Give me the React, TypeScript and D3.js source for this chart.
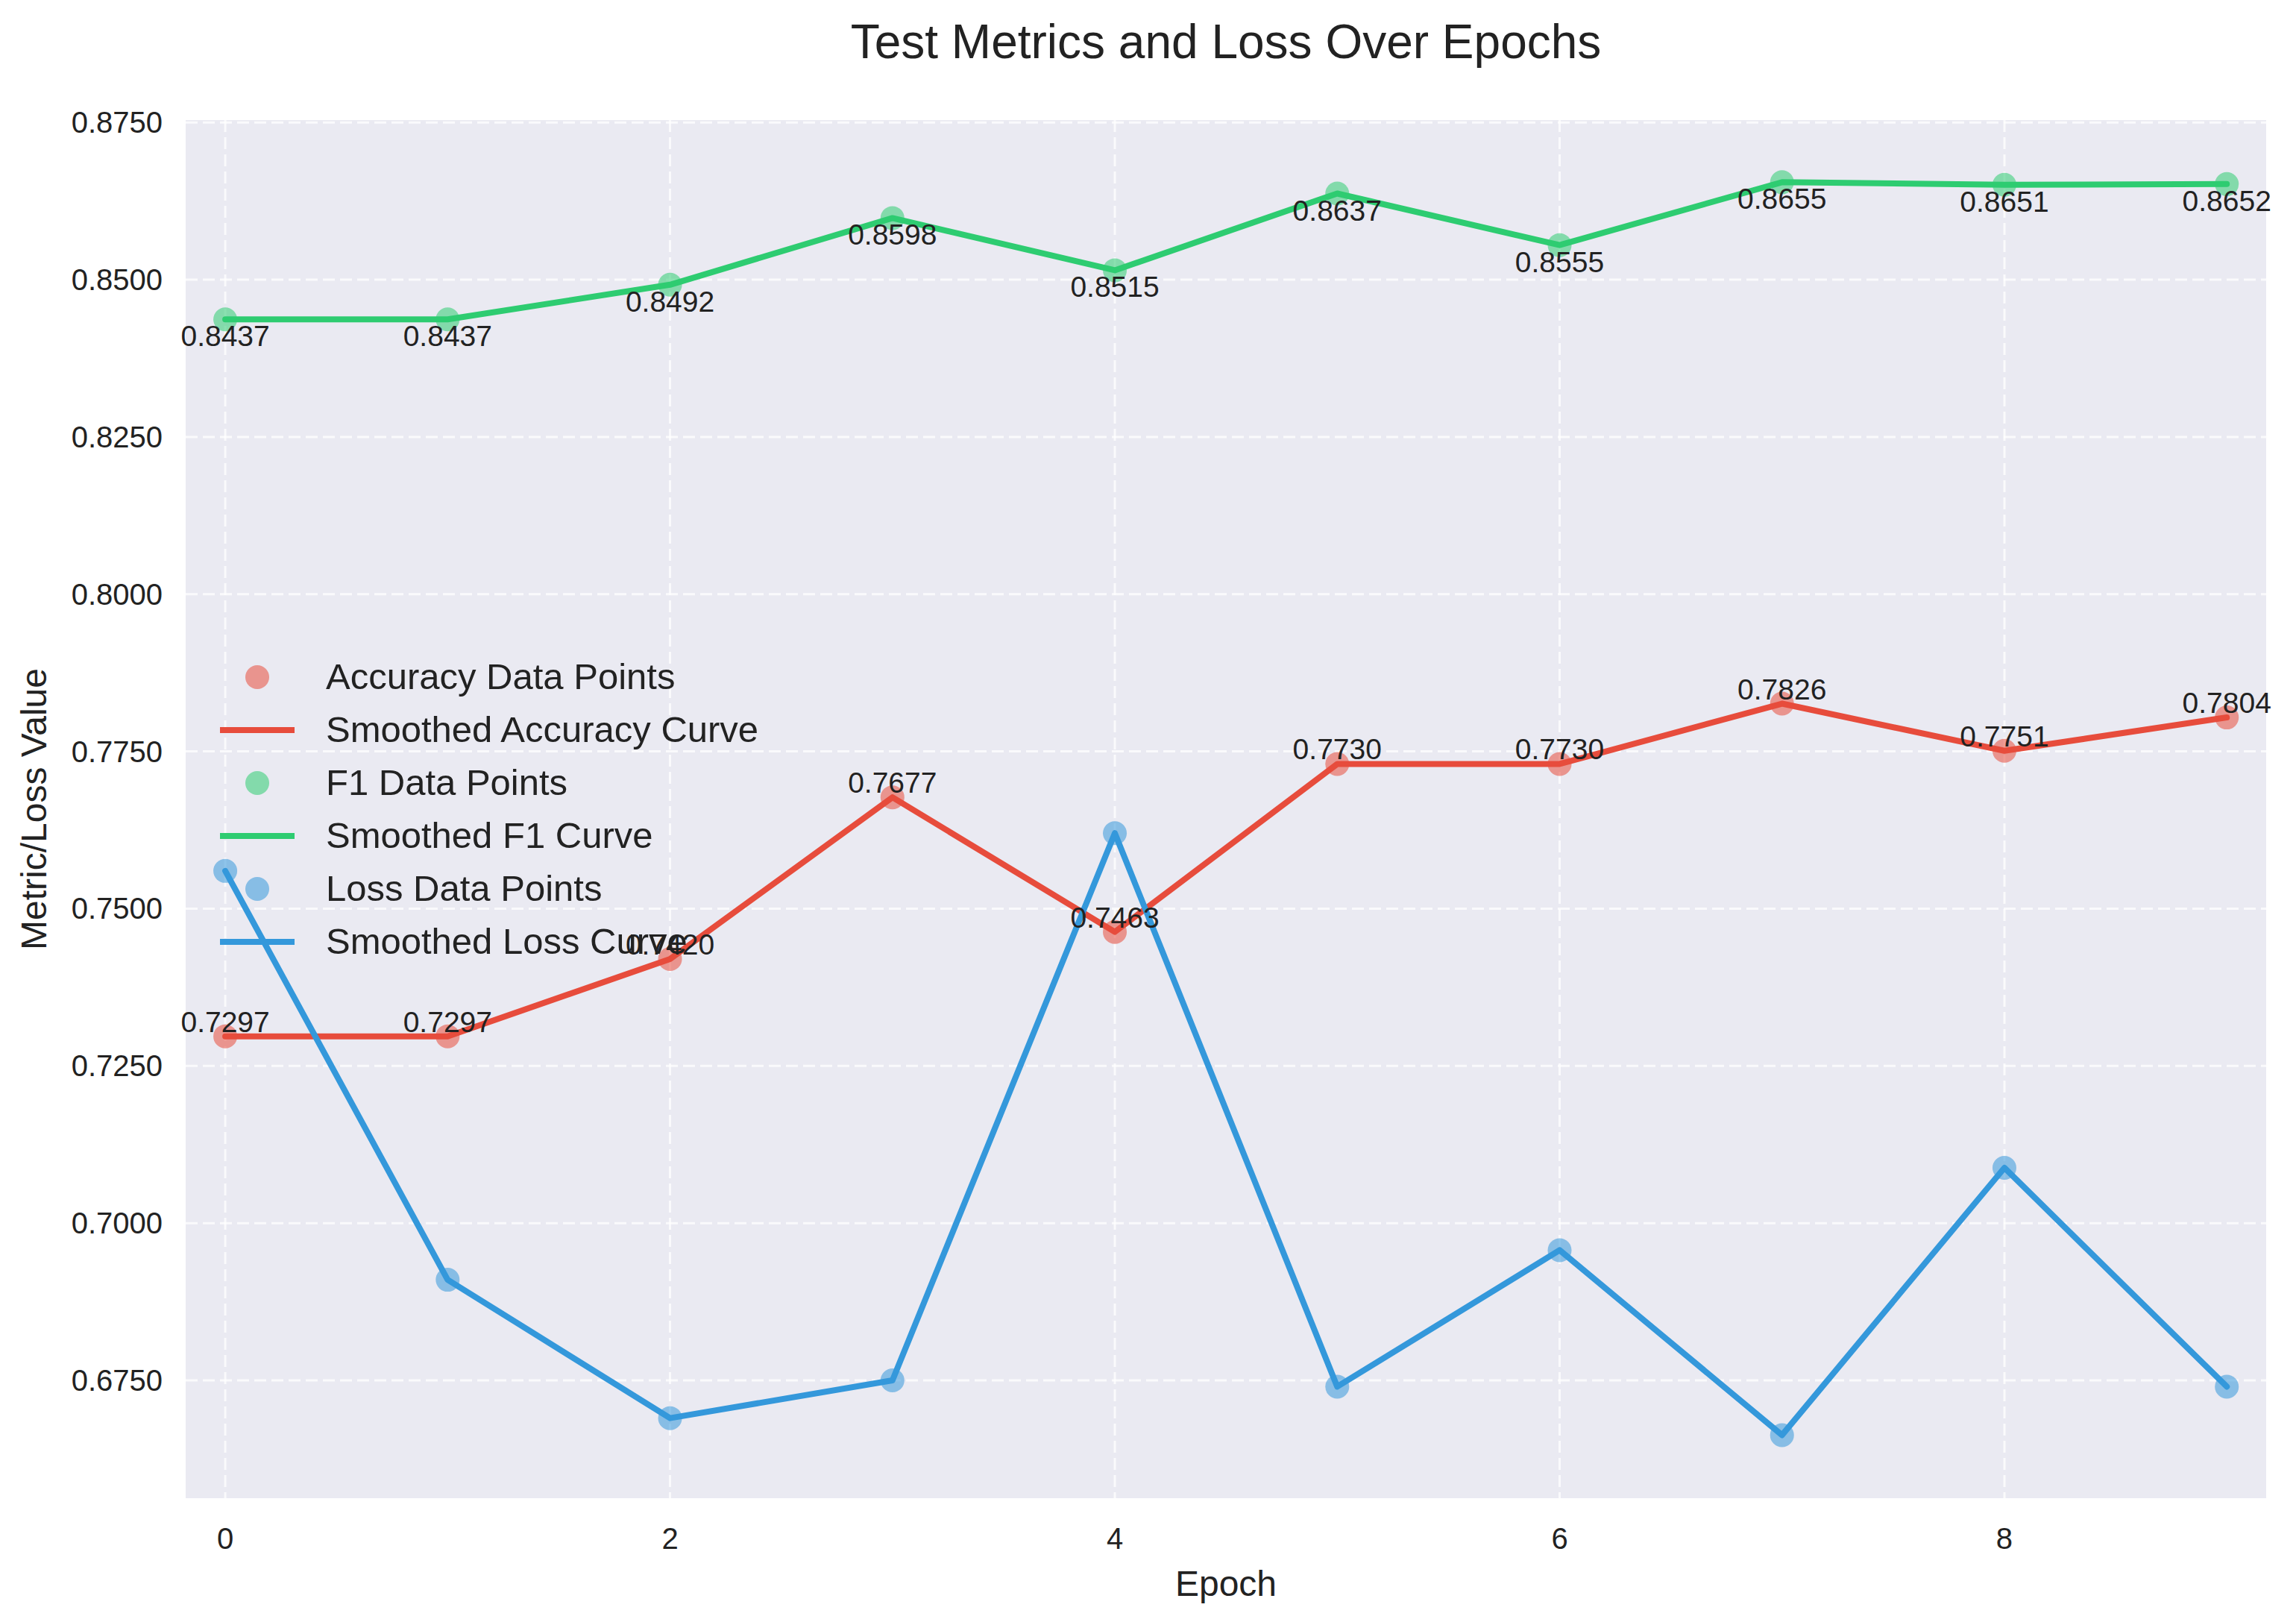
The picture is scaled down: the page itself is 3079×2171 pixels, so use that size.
import * as React from "react";
import * as d3 from "d3";

const epochs = [0, 1, 2, 3, 4, 5, 6, 7, 8, 9];
const accuracy = [0.7297, 0.7297, 0.742, 0.7677, 0.7463, 0.773, 0.773, 0.7826, 0.7751, 0.7804];
const f1 = [0.8437, 0.8437, 0.8492, 0.8598, 0.8515, 0.8637, 0.8555, 0.8655, 0.8651, 0.8652];
const loss = [0.756, 0.691, 0.669, 0.675, 0.762, 0.674, 0.6957, 0.6663, 0.7088, 0.674];
const xTicks = [0, 2, 4, 6, 8];
const yTicks = [0.675, 0.7, 0.725, 0.75, 0.775, 0.8, 0.825, 0.85, 0.875];

const W = 3079;
const H = 2171;
const m = { left: 249, right: 3039, top: 161, bottom: 2009 };
const font = "'Liberation Sans', Arial, sans-serif";

export default function App() {
  const x = d3.scaleLinear().domain([-0.178, 9.177]).range([m.left, m.right]);
  const y = d3.scaleLinear().domain([0.65627, 0.87538]).range([m.bottom, m.top]);
  const line = d3
    .line<number>()
    .x((_, i) => x(epochs[i]))
    .y((d) => y(d));

  const series = [
    { name: "Accuracy", vals: accuracy, color: "#e74c3c", label: "above" },
    { name: "F1", vals: f1, color: "#2ecc71", label: "below" },
    { name: "Loss", vals: loss, color: "#3498db", label: "none" },
  ];

  const legendRows = series.flatMap((s) => [
    { kind: "dot", text: `${s.name} Data Points`, color: s.color },
    { kind: "line", text: `Smoothed ${s.name} Curve`, color: s.color },
  ]);

  return (
    <svg width={W} height={H} style={{ position: "absolute", left: 0, top: 0 }} fontFamily={font}>
      <rect width={W} height={H} fill="white" />
      <rect x={m.left} y={m.top} width={m.right - m.left} height={m.bottom - m.top} fill="#eaeaf2" />
      {xTicks.map((t) => (
        <line key={"gx" + t} x1={x(t)} x2={x(t)} y1={m.top} y2={m.bottom} stroke="white" strokeWidth={3} strokeDasharray="16,7" opacity={0.8} />
      ))}
      {yTicks.map((t) => (
        <line key={"gy" + t} x1={m.left} x2={m.right} y1={y(t)} y2={y(t)} stroke="white" strokeWidth={3} strokeDasharray="16,7" opacity={0.8} />
      ))}
      {series.map((s) => (
        <g key={s.name}>
          {s.vals.map((v, i) => (
            <circle key={i} cx={x(epochs[i])} cy={y(v)} r={16} fill={s.color} opacity={0.55} />
          ))}
          <path d={line(s.vals) ?? ""} fill="none" stroke={s.color} strokeWidth={8} strokeLinejoin="round" strokeLinecap="round" />
        </g>
      ))}
      {series
        .filter((s) => s.label !== "none")
        .map((s) =>
          s.vals.map((v, i) => (
            <text
              key={s.name + i}
              x={x(epochs[i])}
              y={s.label === "above" ? y(v) - 6 : y(v) + 36}
              textAnchor="middle"
              fontSize={39}
              fill="#222"
            >
              {v.toFixed(4)}
            </text>
          ))
        )}
      {xTicks.map((t) => (
        <text key={"tx" + t} x={x(t)} y={2077} textAnchor="middle" fontSize={40} fill="#222">
          {t}
        </text>
      ))}
      {yTicks.map((t) => (
        <text key={"ty" + t} x={218} y={y(t) + 14} textAnchor="end" fontSize={40} fill="#222">
          {t.toFixed(4)}
        </text>
      ))}
      <text x={(m.left + m.right) / 2} y={78} textAnchor="middle" fontSize={64} fill="#222">
        Test Metrics and Loss Over Epochs
      </text>
      <text x={(m.left + m.right) / 2} y={2140} textAnchor="middle" fontSize={48} fill="#222">
        Epoch
      </text>
      <text transform={`translate(62, ${(m.top + m.bottom) / 2}) rotate(-90)`} textAnchor="middle" fontSize={48} fill="#222">
        Metric/Loss Value
      </text>
      {legendRows.map((r, i) => {
        const ly = 908 + i * 71;
        return (
          <g key={r.text}>
            {r.kind === "dot" ? (
              <circle cx={345} cy={ly} r={16} fill={r.color} opacity={0.55} />
            ) : (
              <line x1={295} x2={395} y1={ly} y2={ly} stroke={r.color} strokeWidth={8} />
            )}
            <text x={437} y={ly + 16} fontSize={49} fill="#222">
              {r.text}
            </text>
          </g>
        );
      })}
    </svg>
  );
}
